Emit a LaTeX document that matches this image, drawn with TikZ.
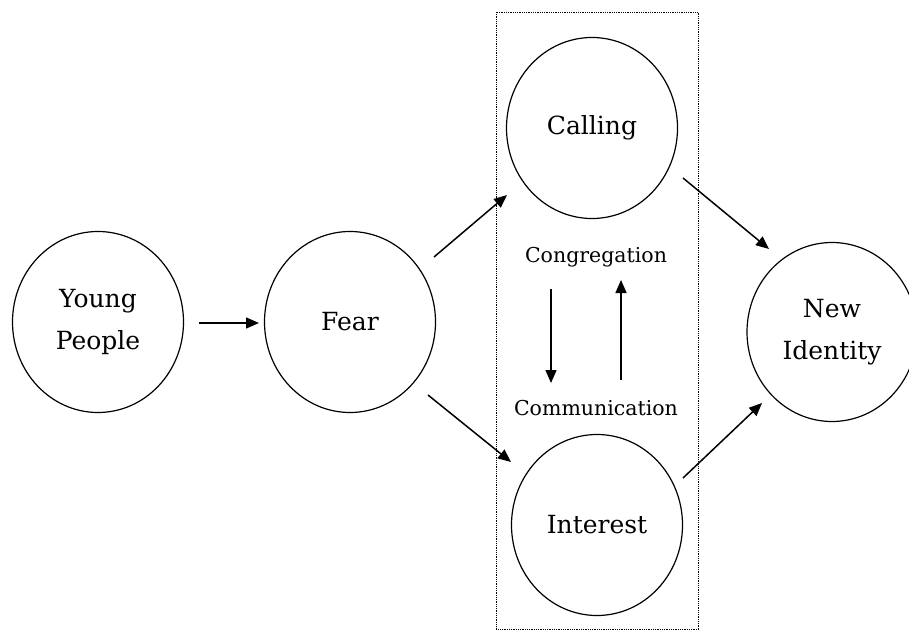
\documentclass[tikz,border=0pt]{standalone}
\usepackage{fontspec}
\setmainfont{DejaVu Serif}
\usetikzlibrary{arrows.meta,shapes.geometric}
\begin{document}
\begin{tikzpicture}[x=1pt,y=-1pt,
  bub/.style={draw, line width=1.2pt, ellipse, minimum width=171pt, minimum height=181pt, inner sep=0pt, align=center, font=\fontsize{25}{42}\selectfont},
  lab/.style={font=\fontsize{20.5}{22}\selectfont, inner sep=0pt},
  arr/.style={-{Triangle[length=13pt,width=11pt]}, line width=1.5pt}]
\useasboundingbox (0,0) rectangle (909,631);
\draw[densely dotted, line width=0.8pt] (496,12) rectangle (698,629);
\node[bub] (yp) at (98,322) {Young\\People};
\node[bub] (fear) at (350,322) {Fear};
\node[bub] (call) at (592,128) {Calling};
\node[bub] (int) at (597,525) {Interest};
\node[bub, minimum width=170pt, minimum height=179pt] (ni) at (832,332) {New\\Identity};
\node[lab] (cong) at (596,257) {Congregation};
\node[lab] (comm) at (596,408) {Communication};
\coordinate (a1) at (199,323); \coordinate (a2) at (259,323);
\draw[arr] (a1) -- (a2);
\coordinate (b1) at (434,257); \coordinate (b2) at (507,195);
\draw[arr] (b1) -- (b2);
\coordinate (c1) at (428,395); \coordinate (c2) at (511,462);
\draw[arr] (c1) -- (c2);
\coordinate (d1) at (683,178); \coordinate (d2) at (769,249);
\draw[arr] (d1) -- (d2);
\coordinate (e1) at (683,478); \coordinate (e2) at (762,403);
\draw[arr] (e1) -- (e2);
\coordinate (f1) at (551,289); \coordinate (f2) at (551,383);
\draw[arr] (f1) -- (f2);
\coordinate (g1) at (621,380); \coordinate (g2) at (621,280);
\draw[arr] (g1) -- (g2);
\end{tikzpicture}
\end{document}
